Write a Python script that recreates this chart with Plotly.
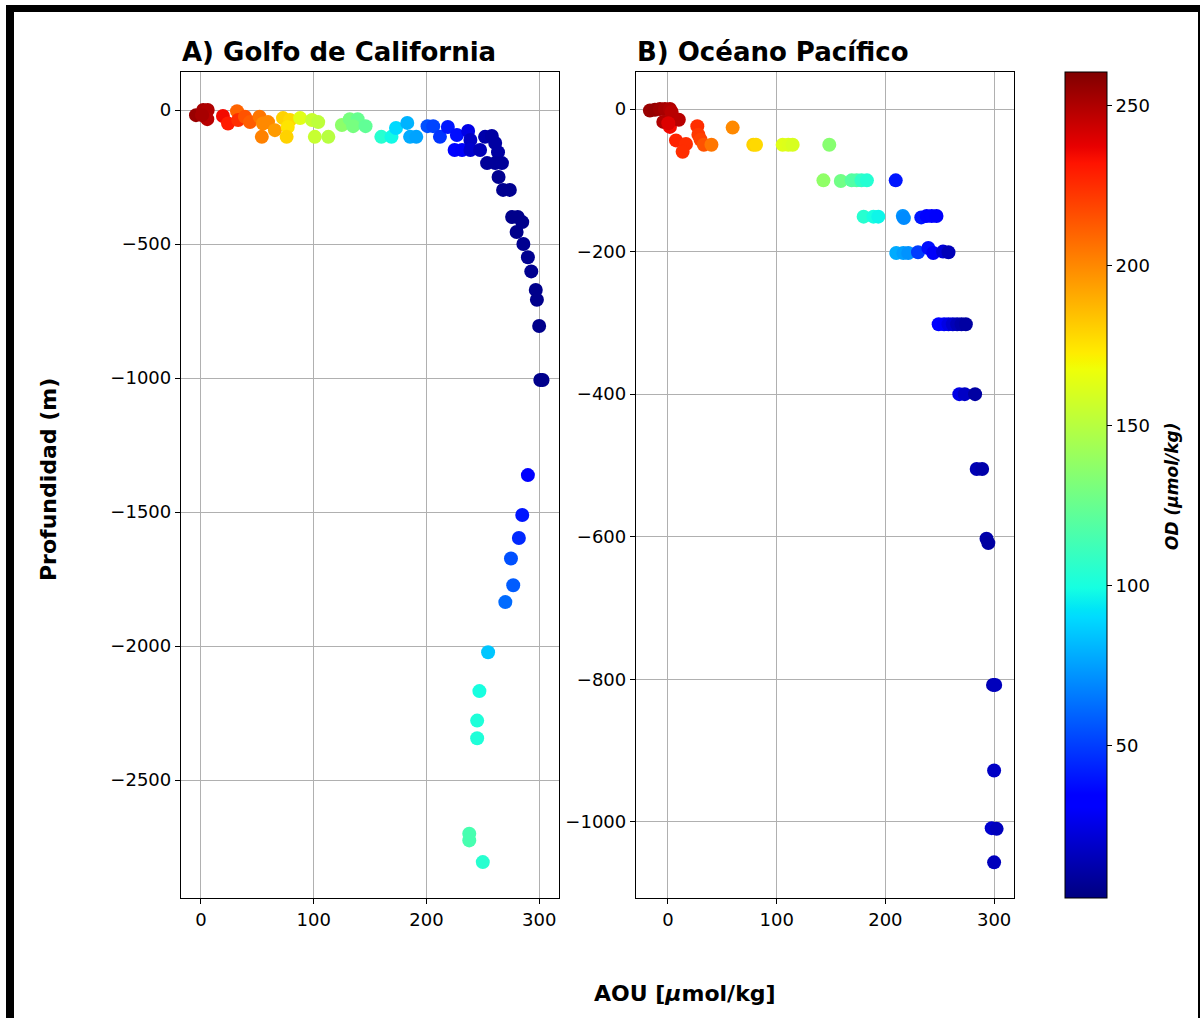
import plotly.graph_objects as go

# ---------------- data ----------------
# Panel A: Golfo de California
aou_a = [-4.4, 2, 6, 5.6, 1, 19.5, 24, 32, 33, 39, 43.5, 52, 55, 54, 59.5, 65.6,
         72.8, 79, 77, 76, 88, 98.5, 104, 101, 113, 125, 132, 139, 135, 146,
         160, 169, 173, 183, 185.5, 191, 201, 206, 212, 219, 227, 225, 231.6,
         237, 239, 239, 247.6, 252, 258, 261, 263.5, 253.8, 261, 267, 264, 268,
         274, 276, 281, 285, 280, 286, 290, 293, 297, 298, 300, 301, 303, 290,
         285, 282, 275, 277, 270, 254.7, 247, 245, 245, 238, 238, 250]
depth_a = [-19, 0, 0, -34, -19, -22, -50, -4, -37, -25, -45, -25, -50, -100, -45, -75,
           -30, -37, -63, -100, -30, -37, -45, -100, -100, -56, -34, -34, -60, -60,
           -100, -100, -67, -48, -100, -100, -60, -60, -100, -63, -93, -149, -149,
           -78, -112, -149, -149, -100, -97, -123, -157, -198, -198, -198, -250, -298,
           -298, -399, -399, -418, -455, -500, -549, -602, -671, -708, -806, -1007, -1007, -1362,
           -1511, -1597, -1673, -1773, -1836, -2023, -2168, -2278, -2344, -2700, -2725, -2806]
od_a = [255, 252, 250, 248, 252, 235, 230, 210, 225, 215, 212, 205, 200, 202, 200, 195,
        180, 178, 175, 180, 163, 155, 152, 155, 150, 137, 130, 125, 130, 123,
        105, 98, 90, 80, 78, 76, 55, 52, 48, 40, 38, 35, 30,
        25, 18, 20, 15, 12, 10, 10, 10, 8, 8, 8, 6, 6,
        6, 5, 5, 5, 5, 6, 6, 6, 5, 5, 5, 5, 5, 33,
        40, 45, 55, 58, 62, 85, 100, 102, 102, 115, 115, 105]

# Panel B: Oceano Pacifico
aou_b = [-16.6, -12, -7.4, -2.8, 1.8, 3.4, -4.3, 1.8, 10, 0.3, 7.4, 16.6, 13.5, 27, 28,
         30, 33, 40, 59.5, 78.5, 81, 105.5, 110.7, 114.7, 148.4, 143, 159, 169, 173.6,
         178, 183, 209.5, 180, 189, 193.5, 216, 217, 233, 238, 242.6, 247, 210, 216.5,
         221, 230, 239.5, 244, 253, 258, 249, 254, 258, 262, 266, 270, 274, 268, 273,
         282.5, 284, 289, 293, 294.7, 299, 301, 300, 297.8, 302.3, 300]
depth_b = [-2, -1, 0, 0, 0, -4, -18, -25, -15, -20, -44, -49, -60, -24, -36,
           -43, -50, -50, -26, -50, -50, -50, -50, -50, -50, -100, -101, -100, -100,
           -100, -100, -100, -151, -151, -151, -150, -153, -152, -150, -150, -150, -202, -202,
           -202, -201, -195, -202, -200, -201, -302, -302, -302, -302, -302, -302, -302, -400, -400,
           -400, -505, -505, -603, -609, -808, -808, -928, -1009, -1010, -1057]
od_b = [255, 256, 254, 252, 250, 248, 250, 235, 248, 240, 228, 225, 225, 225, 222,
        220, 215, 205, 200, 180, 178, 163, 162, 160, 135, 138, 128, 120, 118,
        108, 104, 40, 105, 100, 97, 72, 70, 40, 35, 35, 30, 78, 75,
        72, 50, 38, 30, 22, 15, 35, 30, 25, 20, 15, 12, 10, 25, 18,
        10, 14, 12, 12, 10, 14, 16, 18, 20, 16, 16]

x_ticks = [0, 100, 200, 300]
y_ticks_a = [0, -500, -1000, -1500, -2000, -2500]
y_ticks_b = [0, -200, -400, -600, -800, -1000]
cbar_ticks = [50, 100, 150, 200, 250]

# ---------------- matplotlib "jet" colorscale ----------------
def jet_channel(pts, t):
    for (x0, v0), (x1, v1) in zip(pts[:-1], pts[1:]):
        if x0 <= t <= x1:
            return v0 if x1 == x0 else v0 + (v1 - v0) * (t - x0) / (x1 - x0)
    return pts[-1][1]

R = [(0, 0), (0.35, 0), (0.66, 1), (0.89, 1), (1, 0.5)]
G = [(0, 0), (0.125, 0), (0.375, 1), (0.64, 1), (0.91, 0), (1, 0)]
B = [(0, 0.5), (0.11, 1), (0.34, 1), (0.65, 0), (1, 0)]
stops = [0, 0.11, 0.125, 0.34, 0.35, 0.375, 0.64, 0.65, 0.66, 0.89, 0.91, 1]
jet = [[s, "rgb(%d,%d,%d)" % tuple(round(255 * jet_channel(c, s)) for c in (R, G, B))]
       for s in stops]

FONT = "DejaVu Sans"
W, H = 1200, 1018

def px(x):
    return x / W

def py(y):
    return 1 - y / H

MS = 14
fig = go.Figure()
fig.add_trace(go.Scatter(x=aou_a, y=depth_a, mode="markers", xaxis="x", yaxis="y",
                         marker=dict(size=MS, color=od_a, coloraxis="coloraxis"),
                         showlegend=False))
fig.add_trace(go.Scatter(x=aou_b, y=depth_b, mode="markers", xaxis="x2", yaxis="y2",
                         marker=dict(size=MS, color=od_b, coloraxis="coloraxis"),
                         showlegend=False))

axis_common = dict(showline=True, linecolor="black", linewidth=1.3, mirror=True,
                   showgrid=True, gridcolor="#b0b0b0", gridwidth=1, zeroline=False,
                   ticks="outside", ticklen=5, tickwidth=1.2, tickcolor="black",
                   tickfont=dict(family=FONT, size=18, color="black"))

fig.update_layout(
    width=W, height=H,
    margin=dict(l=0, r=0, t=0, b=0),
    paper_bgcolor="white", plot_bgcolor="white",
    font=dict(family=FONT, color="black"),
    xaxis=dict(domain=[px(181), px(559)], range=[-17.7, 317.6], tickvals=x_ticks,
               anchor="y", **axis_common),
    yaxis=dict(domain=[py(898), py(72)], range=[-2940, 142], tickvals=y_ticks_a,
               anchor="x", **axis_common),
    xaxis2=dict(domain=[px(636), px(1014)], range=[-29.4, 318.3], tickvals=x_ticks,
                anchor="y2", **axis_common),
    yaxis2=dict(domain=[py(898), py(72)], range=[-1107, 52], tickvals=y_ticks_b,
                anchor="x2", **axis_common),
    coloraxis=dict(
        colorscale=jet, cmin=2.5, cmax=260.6,
        colorbar=dict(x=px(1065), xanchor="left", xpad=0, ypad=0,
                      y=py(485), yanchor="middle", len=826 / H, lenmode="fraction",
                      thickness=42, thicknessmode="pixels",
                      outlinecolor="black", outlinewidth=1,
                      tickvals=cbar_ticks, ticks="outside", ticklen=5, tickcolor="black",
                      tickfont=dict(family=FONT, size=18, color="black"))),
)

annos = [
    dict(text="<b>A) Golfo de California</b>", x=px(180), y=py(52), xanchor="left",
         yanchor="middle", font=dict(size=26)),
    dict(text="<b>B) Océano Pacífico</b>", x=px(635), y=py(52), xanchor="left",
         yanchor="middle", font=dict(size=26)),
    dict(text="<b>Profundidad (m)</b>", x=px(48), y=py(480), xanchor="center",
         yanchor="middle", textangle=-90, font=dict(size=22)),
    dict(text="<b>AOU [<i>μ</i>mol/kg]</b>", x=px(685), y=py(993), xanchor="center",
         yanchor="middle", font=dict(size=22)),
    dict(text="<b><i>OD (μmol/kg)</i></b>", x=px(1172), y=py(487), xanchor="center",
         yanchor="middle", textangle=-90, font=dict(size=17)),
]
for a in annos:
    a.update(xref="paper", yref="paper", showarrow=False)
    a["font"].update(family=FONT, color="black")
fig.update_layout(annotations=annos)

# frame around the picture
shapes = [
    dict(type="rect", x0=px(6), x1=1, y0=py(12), y1=py(5)),
    dict(type="rect", x0=px(6), x1=px(14), y0=0, y1=py(5)),
    dict(type="rect", x0=px(1198), x1=1, y0=0, y1=py(12)),
]
for s in shapes:
    s.update(xref="paper", yref="paper", fillcolor="black", line=dict(width=0), layer="above")
fig.update_layout(shapes=shapes)

fig.write_html("out.html")
